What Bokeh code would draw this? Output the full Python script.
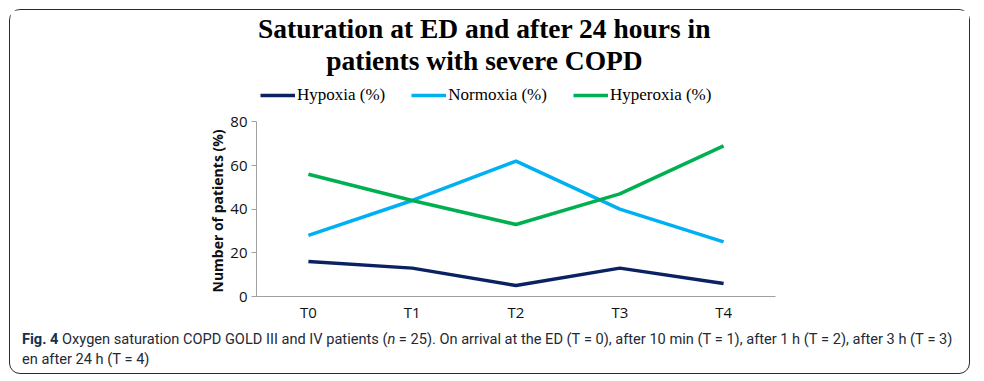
from bokeh.plotting import figure
from bokeh.models import (Range1d, FactorRange, FixedTicker, Label, Legend, LegendItem, Div, Title)
from bokeh.layouts import column
from bokeh.embed import file_html
from bokeh.resources import INLINE

times = ["T0", "T1", "T2", "T3", "T4"]
hypoxia = [16, 13, 5, 13, 6]
normoxia = [28, 44, 62, 40, 25]
hyperoxia = [56, 44, 33, 47, 69]
series_names = ["Hypoxia (%)", "Normoxia (%)", "Hyperoxia (%)"]
series_colors = ["#0b2262", "#00b0f0", "#00b050"]
y_ticks = [0, 20, 40, 60, 80]
title_lines = ["Saturation at ED and after 24 hours in", "patients with severe COPD"]
y_label = "Number of patients (%)"

# layout (pixels)
W, H = 959, 314
ORG = 10.5                      # page position of the figure's top-left corner
FRAME_L, FRAME_R, FRAME_B = 256, 775, 296
Y80_PIX = 121.7                 # page y of the value 80
px_per_unit = (FRAME_B - Y80_PIX) / 80.0
y_end = (FRAME_B - ORG) / px_per_unit

p = figure(width=W, height=H, x_range=FactorRange(*times, range_padding=0),
           y_range=Range1d(0, y_end), output_backend="svg", toolbar_location=None,
           min_border_left=int(round(FRAME_L - ORG)), min_border_right=int(round(ORG + W - FRAME_R)),
           min_border_top=0, min_border_bottom=int(round(ORG + H - FRAME_B)))
p.outline_line_color = None
p.xgrid.visible = False
p.ygrid.visible = False
p.background_fill_color = "white"
p.border_fill_color = "white"

renderers = []
for vals, col in zip([hypoxia, normoxia, hyperoxia], series_colors):
    r = p.line(times, vals, line_color=col, line_width=3.5)
    renderers.append(r)

# y axis
p.yaxis.bounds = (0, 80)
p.yaxis.ticker = FixedTicker(ticks=y_ticks)
p.yaxis.axis_line_color = "#a0a0a0"
p.yaxis.major_tick_line_color = "#a0a0a0"
p.yaxis.major_tick_out = 5
p.yaxis.major_tick_in = 0
p.yaxis.minor_tick_line_color = None
p.yaxis.major_label_text_font = "Open Sans"
p.yaxis.major_label_text_font_size = "15px"
p.yaxis.major_label_text_color = "#111111"
p.yaxis.major_label_standoff = 4

# y axis title, placed along the bounded part of the axis
p.add_layout(Title(text=y_label, align="left", offset=4, standoff=1,
                   text_font="Open Sans", text_font_style="bold", text_font_size="14px",
                   text_color="#111111"), "left")

# x axis
p.xaxis.axis_line_color = "#a0a0a0"
p.xaxis.major_tick_line_color = None
p.xaxis.major_tick_out = 0
p.xaxis.minor_tick_line_color = None
p.xaxis.major_label_text_font = "Open Sans"
p.xaxis.major_label_text_font_size = "15px"
p.xaxis.major_label_text_color = "#111111"
p.xaxis.major_label_standoff = 5

# title (screen units: from frame left / frame bottom)
for i, t in enumerate(title_lines):
    p.add_layout(Label(x=484 - FRAME_L, y=FRAME_B - (28 + 32 * i), x_units="screen", y_units="screen",
                       text=t, text_align="center", text_baseline="alphabetic",
                       text_font="Liberation Serif", text_font_style="bold",
                       text_font_size="27.5px", text_color="#000000"))

legend = Legend(items=[LegendItem(label=n, renderers=[r]) for n, r in zip(series_names, renderers)],
                orientation="horizontal", location=(260 - FRAME_L, FRAME_B - 105),
                label_text_font="Liberation Serif", label_text_font_size="17px",
                label_text_color="#000000", glyph_width=35, glyph_height=20, label_height=20,
                label_standoff=2, spacing=26, padding=0, margin=0,
                border_line_color=None, background_fill_alpha=0)
p.add_layout(legend, "center")

caption = Div(
    text=('<div style="font-family:Roboto; font-size:14.6px; line-height:20px; color:#1e2a36; '
          'white-space:nowrap; padding:5px 0 0 12px;">'
          '<b style="color:#12304f;">Fig. 4</b> Oxygen saturation COPD GOLD III and IV patients '
          '(<i>n</i>&nbsp;=&nbsp;25). On arrival at the ED (T&nbsp;=&nbsp;0), after 10 min (T&nbsp;=&nbsp;1), '
          'after 1 h (T&nbsp;=&nbsp;2), after 3 h (T&nbsp;=&nbsp;3)<br>en after 24 h (T&nbsp;=&nbsp;4)</div>'),
    width=W, height=49, margin=0)

layout = column(p, caption, spacing=0,
                styles={"border": "1.5px solid #2b2b2b", "border-radius": "11px",
                        "margin": "9px 0 0 9px", "background-color": "white"})

open("out.html", "w").write(file_html(layout, INLINE))
